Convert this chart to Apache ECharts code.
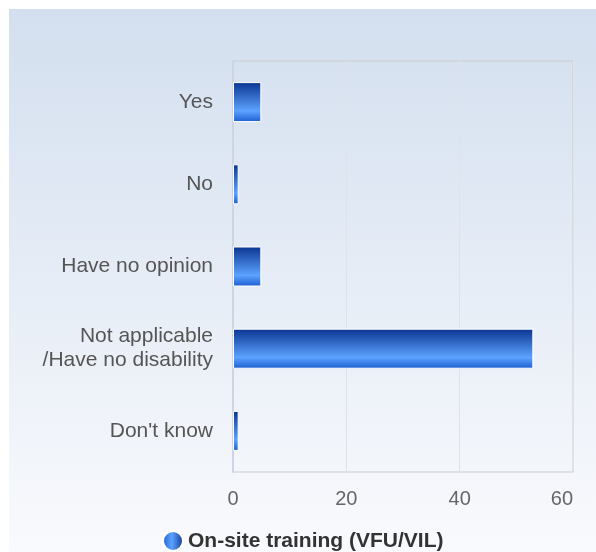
<!DOCTYPE html>
<html>
<head>
<meta charset="utf-8">
<script src="https://cdn.jsdelivr.net/npm/echarts@6/dist/echarts.min.js"></script>
<style>
  html, body { margin: 0; padding: 0; background: #fff; }
  #chart { width: 596px; height: 552px; }
</style>
</head>
<body>
<div id="chart"></div>
<script>
// 数据
const categories = ["Yes", "No", "Have no opinion", "Not applicable\n/Have no disability", "Don't know"];
const values = [5, 1, 5, 53, 1];
const seriesName = "On-site training (VFU/VIL)";
const xTicks = { min: 0, max: 60, interval: 20 };

const chart = echarts.init(document.getElementById("chart"));

const barGradient = new echarts.graphic.LinearGradient(0, 0, 0, 1, [
  { offset: 0, color: "#0a3490" },
  { offset: 0.72, color: "#5ca2ff" },
  { offset: 1, color: "#1c5ed0" }
]);

const options = {
  backgroundColor: "#fff",
  animation: false,
  graphic: [
    {
      type: "rect",
      z: -10,
      shape: { x: 9, y: 9, width: 587, height: 543 },
      style: {
        fill: new echarts.graphic.LinearGradient(0, 0, 0, 1, [
          { offset: 0, color: "#d3dfef" },
          { offset: 1, color: "#f9fafd" }
        ])
      }
    }
  ],
  grid: {
    left: 233,
    right: 23,
    top: 61,
    bottom: 80,
    show: true,
    borderColor: "#cccccc",
    borderWidth: 1,
    backgroundColor: "transparent",
    outerBoundsMode: "none",
    containLabel: false
  },
  legend: {
    top: 530,
    left: 162,
    padding: 0,
    icon: "circle",
    itemWidth: 20,
    itemHeight: 20,
    itemGap: 8,
    itemStyle: {
      color: new echarts.graphic.LinearGradient(0, 0, 1, 0, [
        { offset: 0, color: "#1c5ed0" },
        { offset: 0.45, color: "#5ca2ff" },
        { offset: 1, color: "#0a3490" }
      ])
    },
    textStyle: {
      fontFamily: "Liberation Sans, Arial, sans-serif",
      fontSize: 21,
      fontWeight: "bold",
      color: "#333"
    }
  },
  xAxis: {
    type: "value",
    min: xTicks.min,
    max: xTicks.max,
    interval: xTicks.interval,
    axisLine: { show: false },
    axisTick: { show: false },
    splitLine: { lineStyle: { color: "#dfe2e6" } },
    axisLabel: {
      fontFamily: "Liberation Sans, Arial, sans-serif",
      fontSize: 20,
      color: "#666",
      margin: 17,
      alignMaxLabel: "right"
    }
  },
  yAxis: {
    type: "category",
    inverse: true,
    data: categories,
    axisTick: { show: false },
    axisLine: { lineStyle: { color: "#cdd5e2", width: 2 } },
    axisLabel: {
      fontFamily: "Liberation Sans, Arial, sans-serif",
      fontSize: 21,
      color: "#555",
      margin: 20,
      lineHeight: 24,
      align: "right"
    }
  },
  series: [
    {
      name: seriesName,
      type: "bar",
      data: values,
      barWidth: 40,
      itemStyle: {
        color: barGradient,
        borderColor: "#ffffff",
        borderWidth: 1
      }
    }
  ]
};

chart.setOption(options);
</script>
</body>
</html>
